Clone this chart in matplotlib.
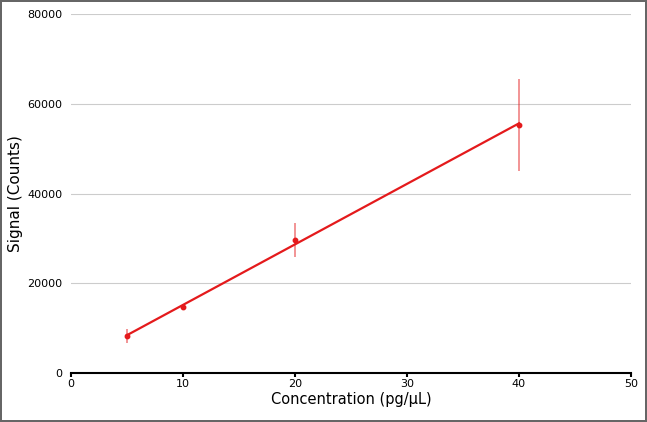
import matplotlib
matplotlib.use("Agg")
import matplotlib.pyplot as plt
import numpy as np

conc = [5, 10, 20, 40]
signal = [8300, 14700, 29600, 55300]
err = [1600, 300, 3800, 10300]

fig = plt.figure(figsize=(6.47, 4.22), dpi=100)
fig.patch.set_edgecolor("#666666")
fig.patch.set_linewidth(1.5)
ax = fig.add_axes([71/647, 1-373/422, (631-71)/647, (373-14)/422])

coef = np.polyfit(conc, signal, 1)
xf = np.array([min(conc), max(conc)])
ax.plot(xf, np.polyval(coef, xf), color="#e41a1c", lw=1.6, zorder=3)
ax.errorbar(conc, signal, yerr=err, fmt="none", ecolor="#e41a1c", alpha=0.55, elinewidth=1.2, zorder=2)
ax.plot(conc, signal, "o", color="#e41a1c", ms=3.2, zorder=4)

ax.set_xlim(0, 50)
ax.set_ylim(0, 80000)
ax.set_xticks([0, 10, 20, 30, 40, 50])
ax.set_yticks([0, 20000, 40000, 60000, 80000])
ax.yaxis.grid(True, color="#cccccc", lw=0.8)
ax.set_axisbelow(True)
for s in ["top", "right", "left"]:
    ax.spines[s].set_visible(False)
ax.spines["bottom"].set_linewidth(1.5)
ax.tick_params(axis="y", length=0, labelsize=8, pad=6)
ax.tick_params(axis="x", length=3, width=1.5, labelsize=8, pad=1.5)
ax.set_xlabel("Concentration (pg/μL)", fontsize=10.5, labelpad=2)
ax.set_ylabel("Signal (Counts)", fontsize=11, labelpad=3)

fig.savefig("out.png", dpi=100, edgecolor=fig.get_edgecolor())
